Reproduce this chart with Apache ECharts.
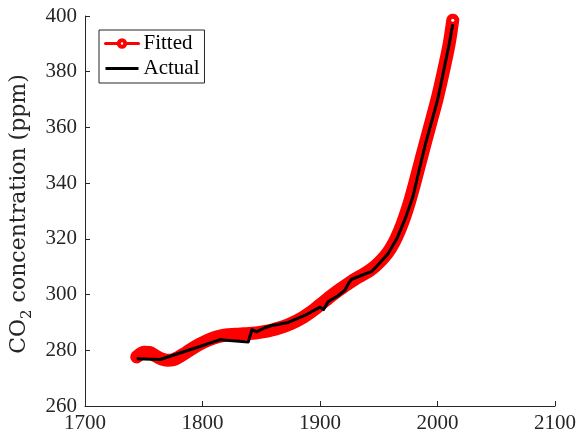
<!DOCTYPE html>
<html>
<head>
<meta charset="utf-8">
<script src="https://cdn.jsdelivr.net/npm/echarts@6/dist/echarts.min.js"></script>
<style>
html,body{margin:0;padding:0;background:#fff;}
#chart{width:579px;height:438px;}
</style>
</head>
<body>
<div id="chart"></div>
<script>
// Fitted curve
var fittedYears = [1744,1750,1755,1760,1765,1770,1775,1780,1785,1790,1795,1800,1805,1810,1815,1820,1825,1830,1835,1840,1845,1850,1855,1860,1865,1870,1875,1880,1885,1890,1895,1900,1905,1910,1915,1920,1925,1930,1935,1940,1945,1950,1955,1960,1965,1970,1975,1980,1985,1990,1995,2000,2005,2010,2013];
var fittedCO2 = [277.6,279.3,279.2,278.0,276.9,276.4,276.6,277.6,278.9,280.3,281.6,282.7,283.7,284.5,285.1,285.5,285.7,285.8,285.9,286.0,286.2,286.5,286.9,287.4,288.0,288.7,289.5,290.5,291.7,293.1,294.6,296.3,298.0,299.7,301.3,302.8,304.2,305.6,306.8,308.0,309.5,311.4,313.6,316.5,320.4,325.4,331.6,339.0,347.0,355.0,362.8,370.8,380.0,390.2,398.5];

var actualYears = [1744,1764,1790,1815,1839,1842,1846,1853,1859,1873,1887,1900,1903,1907,1915,1921,1925,1927,1944,1950,1958,1966,1973,1979,1985,1990,1993,2000,2005,2010,2013];
var actualCO2 = [277.0,276.7,280.3,283.8,283.0,287.4,286.6,288.1,288.9,290.0,292.5,295.5,294.6,297.5,299.5,301.5,304.5,305.5,308.3,311.0,314.7,320.6,327.8,335.0,345.8,354.5,359.0,369.7,379.8,390.0,397.0];

var xTicks = [1700,1800,1900,2000,2100];
var yTicks = [260,280,300,320,340,360,380,400];

var fittedData = fittedYears.map(function(y,i){
  var item = {value:[y, fittedCO2[i]], symbol:'none'};
  if (i === fittedYears.length-1) {
    item.symbol = 'circle';
    item.symbolSize = 3;
    item.itemStyle = {color:'#ffffff'};
  }
  return item;
});
var actualData = actualYears.map(function(y,i){ return [y, actualCO2[i]]; });

var axisColor = '#262626';
var tickFont = 'Liberation Serif';

var chart = echarts.init(document.getElementById('chart'), null, {renderer:'canvas'});
chart.setOption({
  animation:false,
  backgroundColor:'#ffffff',
  grid:{left:85, right:21, top:16, bottom:32, containLabel:false},
  legend:{
    orient:'vertical',
    left:99, top:30,
    backgroundColor:'#ffffff',
    borderColor:axisColor, borderWidth:1, borderRadius:0,
    padding:[3,5,4,5],
    itemGap:4,
    itemWidth:33, itemHeight:8,
    textStyle:{fontFamily:tickFont, fontSize:21, color:'#000'},
    data:[
      {name:'Fitted', itemStyle:{color:'#ffffff', borderColor:'#ff0000', borderWidth:4}, lineStyle:{width:3, color:'#ff0000'}},
      {name:'Actual', icon:'path://M0,0H33V3H0Z', itemStyle:{color:'#000000'}}
    ]
  },
  xAxis:{
    type:'value', min:xTicks[0], max:xTicks[xTicks.length-1], interval:100,
    axisLine:{show:true, lineStyle:{color:axisColor, width:1}},
    axisTick:{show:true, inside:true, length:5, lineStyle:{color:axisColor}},
    axisLabel:{fontFamily:tickFont, fontSize:21, color:axisColor, margin:7,
      formatter:function(v){ return String(v); }},
    splitLine:{show:false}
  },
  yAxis:{
    type:'value', min:yTicks[0], max:yTicks[yTicks.length-1], interval:20,
    axisLine:{show:true, lineStyle:{color:axisColor, width:1}},
    axisTick:{show:true, inside:true, length:5, lineStyle:{color:axisColor}},
    axisLabel:{fontFamily:tickFont, fontSize:21, color:axisColor, margin:8,
      formatter:function(v){ return String(v); }},
    splitLine:{show:false},
    name:'{a|CO}{s|2}{a| concentration (ppm)}',
    nameLocation:'middle',
    nameGap:52,
    nameTextStyle:{
      color:axisColor,
      padding:[0,0,0,-6],
      rich:{
        a:{fontFamily:'DejaVu Serif', fontSize:22, color:axisColor, lineHeight:22, verticalAlign:'top'},
        s:{fontFamily:'DejaVu Serif', fontSize:15, color:axisColor, lineHeight:15, padding:[11,0,0,0], verticalAlign:'top'}
      }
    }
  },
  series:[
    {
      name:'Fitted', type:'line', data:fittedData,
      symbol:'circle', showSymbol:true, smooth:0.3,
      lineStyle:{color:'#ff0000', width:13, cap:'round', join:'round'},
      itemStyle:{color:'#ff0000'},
      z:2
    },
    {
      name:'Actual', type:'line', data:actualData,
      symbol:'none', showSymbol:false,
      lineStyle:{color:'#000000', width:3, join:'round'},
      itemStyle:{color:'#000000'},
      z:3
    }
  ]
});
</script>
</body>
</html>
